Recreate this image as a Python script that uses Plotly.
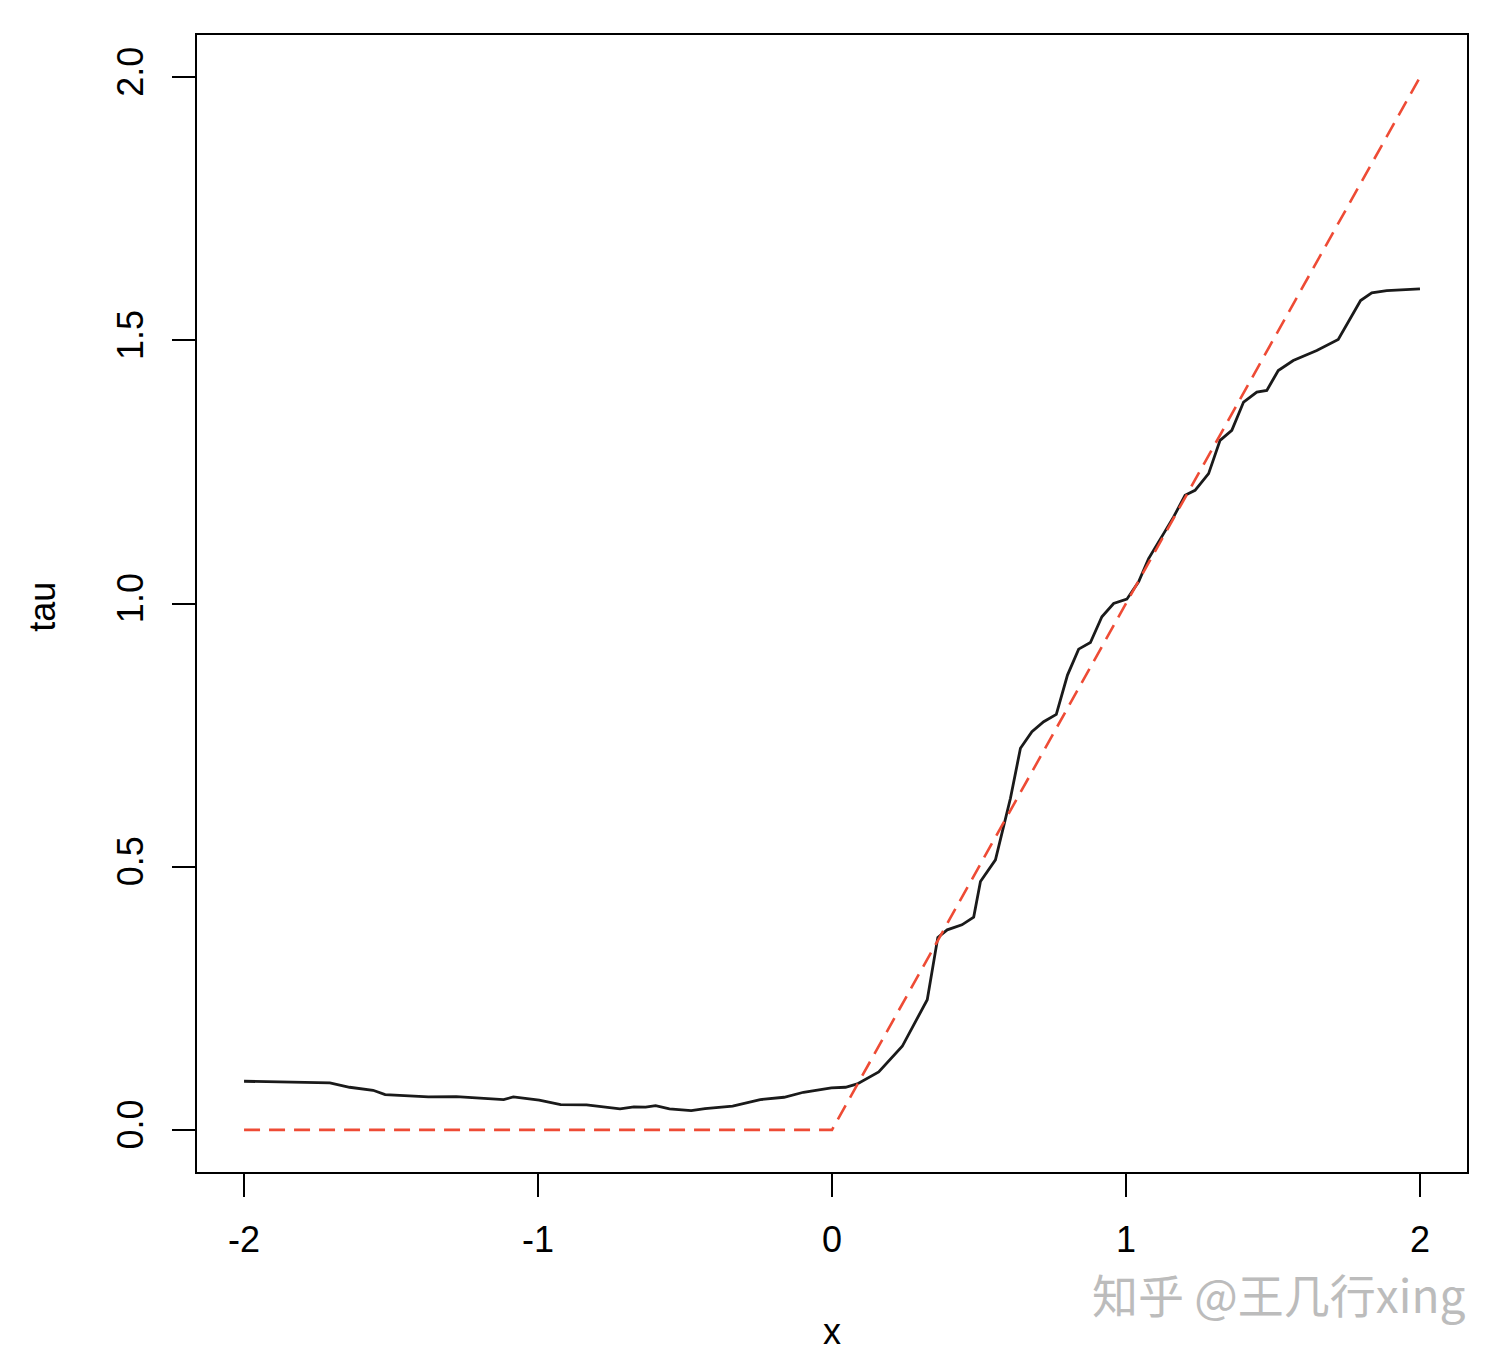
import plotly.graph_objects as go

# Estimated tau curve (black)
x_est = [-2.000, -1.708, -1.641, -1.561, -1.520, -1.373, -1.278, -1.117, -1.084, -0.996,
         -0.923, -0.835, -0.721, -0.674, -0.634, -0.600, -0.553, -0.479, -0.432, -0.338,
         -0.244, -0.163, -0.097, -0.002, 0.046, 0.086, 0.159, 0.239, 0.324, 0.360,
         0.392, 0.442, 0.482, 0.505, 0.556, 0.607, 0.641, 0.680, 0.720, 0.763,
         0.801, 0.839, 0.879, 0.918, 0.958, 1.003, 1.043, 1.077, 1.128, 1.162,
         1.201, 1.235, 1.281, 1.320, 1.360, 1.400, 1.445, 1.479, 1.518, 1.569,
         1.649, 1.722, 1.798, 1.836, 1.887, 1.960, 2.000]
tau_est = [0.0924, 0.0892, 0.0810, 0.0753, 0.0670, 0.0626, 0.0632, 0.0575, 0.0626, 0.0564,
           0.0480, 0.0474, 0.0398, 0.0436, 0.0431, 0.0461, 0.0398, 0.0366, 0.0404, 0.0450,
           0.0575, 0.0620, 0.0715, 0.0797, 0.0810, 0.0873, 0.1101, 0.1588, 0.2473, 0.3657,
           0.3801, 0.3896, 0.4042, 0.4719, 0.5129, 0.6300, 0.7249, 0.7565, 0.7755, 0.7894,
           0.8640, 0.9133, 0.9260, 0.9748, 1.0000, 1.0082, 1.0412, 1.0854, 1.1328, 1.1645,
           1.2055, 1.2150, 1.2467, 1.3099, 1.3289, 1.3827, 1.4017, 1.4047, 1.4427, 1.4617,
           1.4806, 1.5015, 1.5755, 1.5901, 1.5945, 1.5964, 1.5977]

# True tau (red dashed)
x_true = [-2, 0, 2]
tau_true = [0, 0, 2]

x_ticks = [-2, -1, 0, 1, 2]
x_tick_labels = ["-2", "-1", "0", "1", "2"]
y_ticks = [0.0, 0.5, 1.0, 1.5, 2.0]
y_tick_labels = ["0.0", "0.5", "1.0", "1.5", "2.0"]

FONT = "Liberation Sans, Arial, Helvetica, sans-serif"

fig = go.Figure()
fig.add_trace(go.Scatter(x=x_est, y=tau_est, mode="lines",
                         line=dict(color="#1a1a1a", width=2.8), showlegend=False))
fig.add_trace(go.Scatter(x=x_true, y=tau_true, mode="lines",
                         line=dict(color="#ee4b35", width=2.6, dash="16px,9px"),
                         showlegend=False))

axis_common = dict(showline=True, linecolor="black", linewidth=2, mirror=True,
                   showgrid=False, zeroline=False, ticks="outside", ticklen=23,
                   tickwidth=2, tickcolor="black",
                   tickfont=dict(family=FONT, size=36, color="black"))

fig.update_xaxes(range=[-2.16, 2.16], tickvals=x_ticks, ticktext=x_tick_labels,
                 ticklabelstandoff=12, **axis_common)
fig.update_yaxes(range=[-0.08, 2.08], tickvals=y_ticks, ticktext=y_tick_labels,
                 tickangle=-90, ticklabelstandoff=15, **axis_common)

fig.add_annotation(text="x", xref="x", yref="paper", x=0, y=-0.1407,
                   showarrow=False, xanchor="center", yanchor="middle",
                   font=dict(family=FONT, size=36, color="black"))
fig.add_annotation(text="tau", xref="paper", yref="paper", x=-0.1213, y=0.497,
                   showarrow=False, textangle=-90, xanchor="center", yanchor="middle",
                   font=dict(family=FONT, size=36, color="black"))
fig.add_annotation(text="知乎 @王几行xing", xref="paper", yref="paper",
                   x=1.0, y=-0.106, showarrow=False, xanchor="right", yanchor="middle",
                   font=dict(family="Noto Sans CJK SC, sans-serif", size=46, color="#bcbcbc"))

fig.update_layout(width=1506, height=1362,
                  margin=dict(l=197, r=39, t=35, b=190),
                  plot_bgcolor="white", paper_bgcolor="white")

fig.write_html("out.html", config={"displayModeBar": False},
               post_script="document.body.style.margin='0';")
